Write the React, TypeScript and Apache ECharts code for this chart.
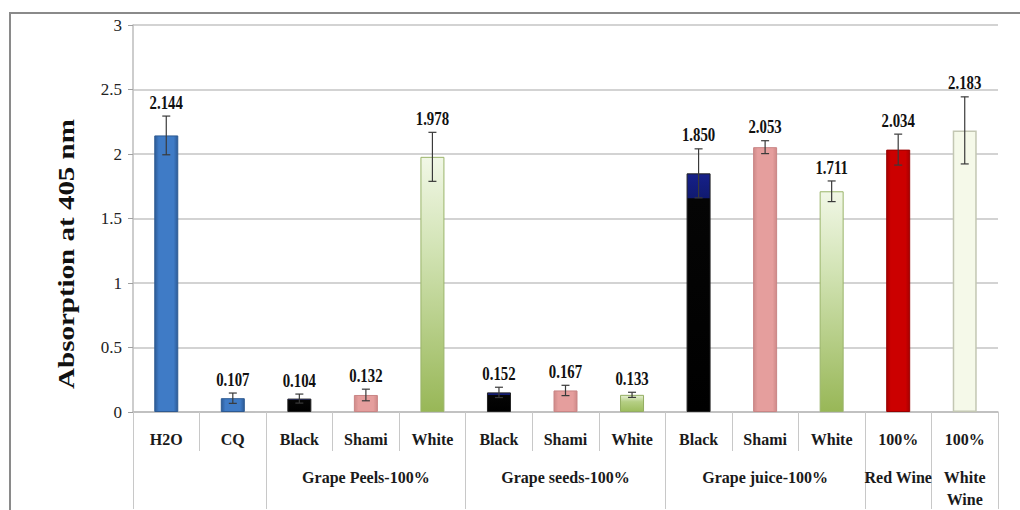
import React, { useEffect, useRef } from "react";
import * as echarts from "echarts";

// ---- data ----
const categories = ["H2O", "CQ", "Black", "Shami", "White", "Black", "Shami", "White", "Black", "Shami", "White", "100%", "100%"];
const groupNames = ["", "Grape Peels-100%", "Grape seeds-100%", "Grape juice-100%", "Red Wine", "White\nWine"];
const groupSizes = [2, 3, 3, 3, 1, 1];
const values = [2.144, 0.107, 0.104, 0.132, 1.978, 0.152, 0.167, 0.133, 1.85, 2.053, 1.711, 2.034, 2.183];
const errors = [0.15, 0.04, 0.035, 0.045, 0.19, 0.04, 0.04, 0.02, 0.19, 0.05, 0.08, 0.12, 0.26];
const yTicks = [0, 0.5, 1, 1.5, 2, 2.5, 3];
const barKinds = ["blue", "blue", "black", "pink", "greenLight", "black", "pink", "green", "black", "pink", "greenLight", "red", "pale"];

const SERIF = "Liberation Serif";

function hGrad(edge: string, mid: string) {
  return new echarts.graphic.LinearGradient(1, 0, 0, 0, [
    { offset: 0, color: edge },
    { offset: 0.18, color: mid },
    { offset: 0.82, color: mid },
    { offset: 1, color: edge },
  ]);
}

function styleFor(kind: string) {
  switch (kind) {
    case "blue":
      return { color: hGrad("#2d5b97", "#3f7bc6"), borderColor: "#2e5a92", borderWidth: 1 };
    case "black":
      return {
        color: new echarts.graphic.LinearGradient(0, 0, 0, 1, [
          { offset: 0, color: "#16208a" },
          { offset: 0.1, color: "#101a70" },
          { offset: 0.105, color: "#050505" },
          { offset: 1, color: "#000000" },
        ]),
        borderColor: "#222",
        borderWidth: 1,
      };
    case "pink":
      return { color: hGrad("#cf8a89", "#e59e9d"), borderColor: "#c98585", borderWidth: 1 };
    case "greenLight":
      return {
        color: new echarts.graphic.LinearGradient(0, 0, 0, 1, [
          { offset: 0, color: "#f1f7e6" },
          { offset: 0.35, color: "#d3e4b6" },
          { offset: 1, color: "#98b757" },
        ]),
        borderColor: "#9ab46a",
        borderWidth: 1,
      };
    case "green":
      return {
        color: new echarts.graphic.LinearGradient(0, 0, 0, 1, [
          { offset: 0, color: "#e6f0d4" },
          { offset: 0.4, color: "#b5cf84" },
          { offset: 1, color: "#9dbd5e" },
        ]),
        borderColor: "#93ad62",
        borderWidth: 1,
      };
    case "red":
      return { color: hGrad("#a80000", "#cc0000"), borderColor: "#990000", borderWidth: 1 };
    case "pale":
    default:
      return { color: "#f5f9e9", borderColor: "#c3c7b3", borderWidth: 1.5 };
  }
}

export default function App() {
  const ref = useRef<HTMLDivElement>(null);

  useEffect(() => {
    document.body.style.margin = "0";
    if (!ref.current) return;
    const chart = echarts.init(ref.current, null, { renderer: "svg" });

    // second-row labels and group boundaries from group arrays
    const row2: string[] = categories.map(() => "");
    const boundaries: number[] = [];
    let start = 0;
    groupSizes.forEach((s, g) => {
      boundaries.push(start);
      row2[start + Math.floor((s - 1) / 2)] = groupNames[g];
      start += s;
    });

    const option: any = {
      animation: false,
      backgroundColor: "#ffffff",
      textStyle: { fontFamily: SERIF },
      grid: { left: 133, right: 22, top: 25, bottom: 97 },
      graphic: [
        {
          type: "rect",
          silent: true,
          z: -10,
          shape: { x: 10, y: 13, width: 1100, height: 600 },
          style: { fill: "none", stroke: "#8a8a8a", lineWidth: 2 },
        },
        {
          type: "text",
          x: 66,
          y: 254,
          rotation: Math.PI / 2,
          scaleY: 0.8,
          style: {
            text: "Absorption at 405 nm",
            font: "bold 29px " + SERIF,
            fill: "#111",
            align: "center",
            verticalAlign: "middle",
          },
        },
      ],
      xAxis: [
        {
          type: "category",
          data: categories,
          axisLine: { lineStyle: { color: "#bcbcbc", width: 1.5 } },
          axisTick: { show: true, interval: 0, length: 39, lineStyle: { color: "#c8c8c8", width: 1 } },
          axisLabel: {
            interval: 0,
            margin: 19,
            fontFamily: SERIF,
            fontWeight: "bold",
            fontSize: 16,
            color: "#1a1a1a",
          },
        },
        {
          type: "category",
          data: row2,
          position: "bottom",
          axisLine: { show: false },
          axisTick: {
            show: true,
            length: 97,
            interval: (i: number) => boundaries.indexOf(i) >= 0,
            lineStyle: { color: "#c8c8c8", width: 1 },
          },
          axisLabel: {
            interval: 0,
            margin: 54,
            lineHeight: 22,
            fontFamily: SERIF,
            fontWeight: "bold",
            fontSize: 16,
            color: "#1a1a1a",
          },
          splitLine: { show: false },
        },
      ],
      yAxis: {
        type: "value",
        min: yTicks[0],
        max: yTicks[yTicks.length - 1],
        interval: yTicks[1] - yTicks[0],
        axisLine: { show: true, lineStyle: { color: "#bcbcbc", width: 1.5 } },
        axisTick: { show: true, length: 5, lineStyle: { color: "#a0a0a0" } },
        axisLabel: { margin: 11, fontFamily: SERIF, fontSize: 17, color: "#222" },
        splitLine: { lineStyle: { color: "#c4c4c4", width: 1.5 } },
      },
      series: [
        {
          type: "bar",
          xAxisIndex: 0,
          barWidth: 24,
          data: values.map((v, i) => ({ value: v, itemStyle: styleFor(barKinds[i]) })),
          z: 2,
        },
        {
          type: "custom",
          xAxisIndex: 0,
          z: 10,
          encode: { x: 0, y: [1, 2] },
          data: values.map((v, i) => [i, v - errors[i], v + errors[i], v]),
          renderItem: (params: any, api: any) => {
            const lo = api.coord([api.value(0), api.value(1)]);
            const hi = api.coord([api.value(0), api.value(2)]);
            const hw = 4;
            const st = { stroke: "#3a3a3a", lineWidth: 1.2 };
            return {
              type: "group",
              children: [
                { type: "line", shape: { x1: lo[0], y1: lo[1], x2: hi[0], y2: hi[1] }, style: st },
                { type: "line", shape: { x1: hi[0] - hw, y1: hi[1], x2: hi[0] + hw, y2: hi[1] }, style: st },
                { type: "line", shape: { x1: lo[0] - hw, y1: lo[1], x2: lo[0] + hw, y2: lo[1] }, style: st },
                {
                  type: "text",
                  x: hi[0],
                  y: hi[1] - 4,
                  scaleX: 0.78,
                  style: {
                    text: Number(api.value(3)).toFixed(3),
                    font: "bold 19px " + SERIF,
                    fill: "#111",
                    align: "center",
                    verticalAlign: "bottom",
                  },
                },
              ],
            };
          },
        },
      ],
    };

    chart.setOption(option);
    return () => chart.dispose();
  }, []);

  return <div ref={ref} style={{ width: 1020, height: 510 }} />;
}
